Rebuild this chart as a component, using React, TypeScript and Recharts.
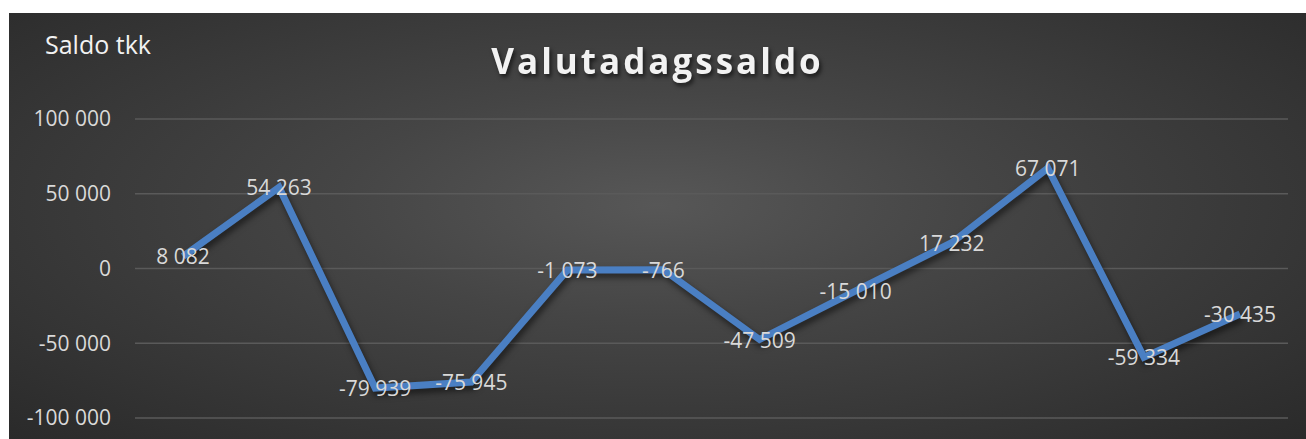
import React from 'react';
import { LineChart, Line, XAxis, YAxis, CartesianGrid, LabelList } from 'recharts';

const days = ['1', '2', '3', '4', '5', '6', '7', '8', '9', '10', '11', '12'];
const saldo = [8082, 54263, -79939, -75945, -1073, -766, -47509, -15010, 17232, 67071, -59334, -30435];
const yTicks = [-100000, -50000, 0, 50000, 100000];

const data = days.map((d, i) => ({ day: d, saldo: saldo[i] }));

const fmt = (v: number) => {
  const s = Math.abs(v).toString().replace(/\B(?=(\d{3})+(?!\d))/g, ' ');
  return v < 0 ? `-${s}` : s;
};

const FONT = '"Open Sans", sans-serif';
const W = 1297;
const H = 426;

const PointLabel = (props: any) => {
  const { x, y, value } = props;
  return (
    <text
      x={x}
      y={y}
      textAnchor="middle"
      dominantBaseline="central"
      fill="#d9d9d9"
      fontSize={21}
      fontFamily={FONT}
    >
      {fmt(value)}
    </text>
  );
};

export default function App() {
  return (
    <div
      style={{
        position: 'absolute',
        left: 9,
        top: 13,
        width: W,
        height: H,
        background: 'radial-gradient(ellipse at 50% 45%, #575757 0%, #454545 35%, #2a2a2a 100%)',
        overflow: 'hidden',
      }}
    >
      <style>{`.recharts-line-curve { filter: drop-shadow(2px 4px 3px rgba(0,0,0,0.55)); }`}</style>
      <LineChart width={W} height={H} data={data} margin={{ top: 106, right: 18, bottom: 21, left: 0 }}>
        <CartesianGrid horizontal vertical={false} stroke="#5a5a5a" strokeWidth={1.5} />
        <XAxis dataKey="day" hide padding={{ left: 48, right: 48 }} />
        <YAxis
          width={126}
          domain={[-100000, 100000]}
          ticks={yTicks}
          tickFormatter={fmt}
          axisLine={false}
          tickLine={false}
          tickSize={0}
          tickMargin={24}
          tick={{ fill: '#d9d9d9', fontSize: 21, fontFamily: FONT }}
        />
        <Line
          type="linear"
          dataKey="saldo"
          stroke="#4a7fc3"
          strokeWidth={7}
          dot={false}
          activeDot={false}
          isAnimationActive={false}
        >
          <LabelList dataKey="saldo" content={PointLabel} />
        </Line>
      </LineChart>
      <svg width={W} height={H} style={{ position: 'absolute', left: 0, top: 0, pointerEvents: 'none' }}>
        <text x={36} y={41} fill="#f2f2f2" fontSize={25} fontFamily={FONT}>
          Saldo tkk
        </text>
        <text
          x={W / 2}
          y={61}
          textAnchor="middle"
          fill="#f2f2f2"
          fontSize={35}
          fontWeight="bold"
          letterSpacing={3}
          fontFamily={FONT}
          style={{ filter: 'drop-shadow(2px 3px 2px rgba(0,0,0,0.6))' }}
        >
          Valutadagssaldo
        </text>
      </svg>
    </div>
  );
}
